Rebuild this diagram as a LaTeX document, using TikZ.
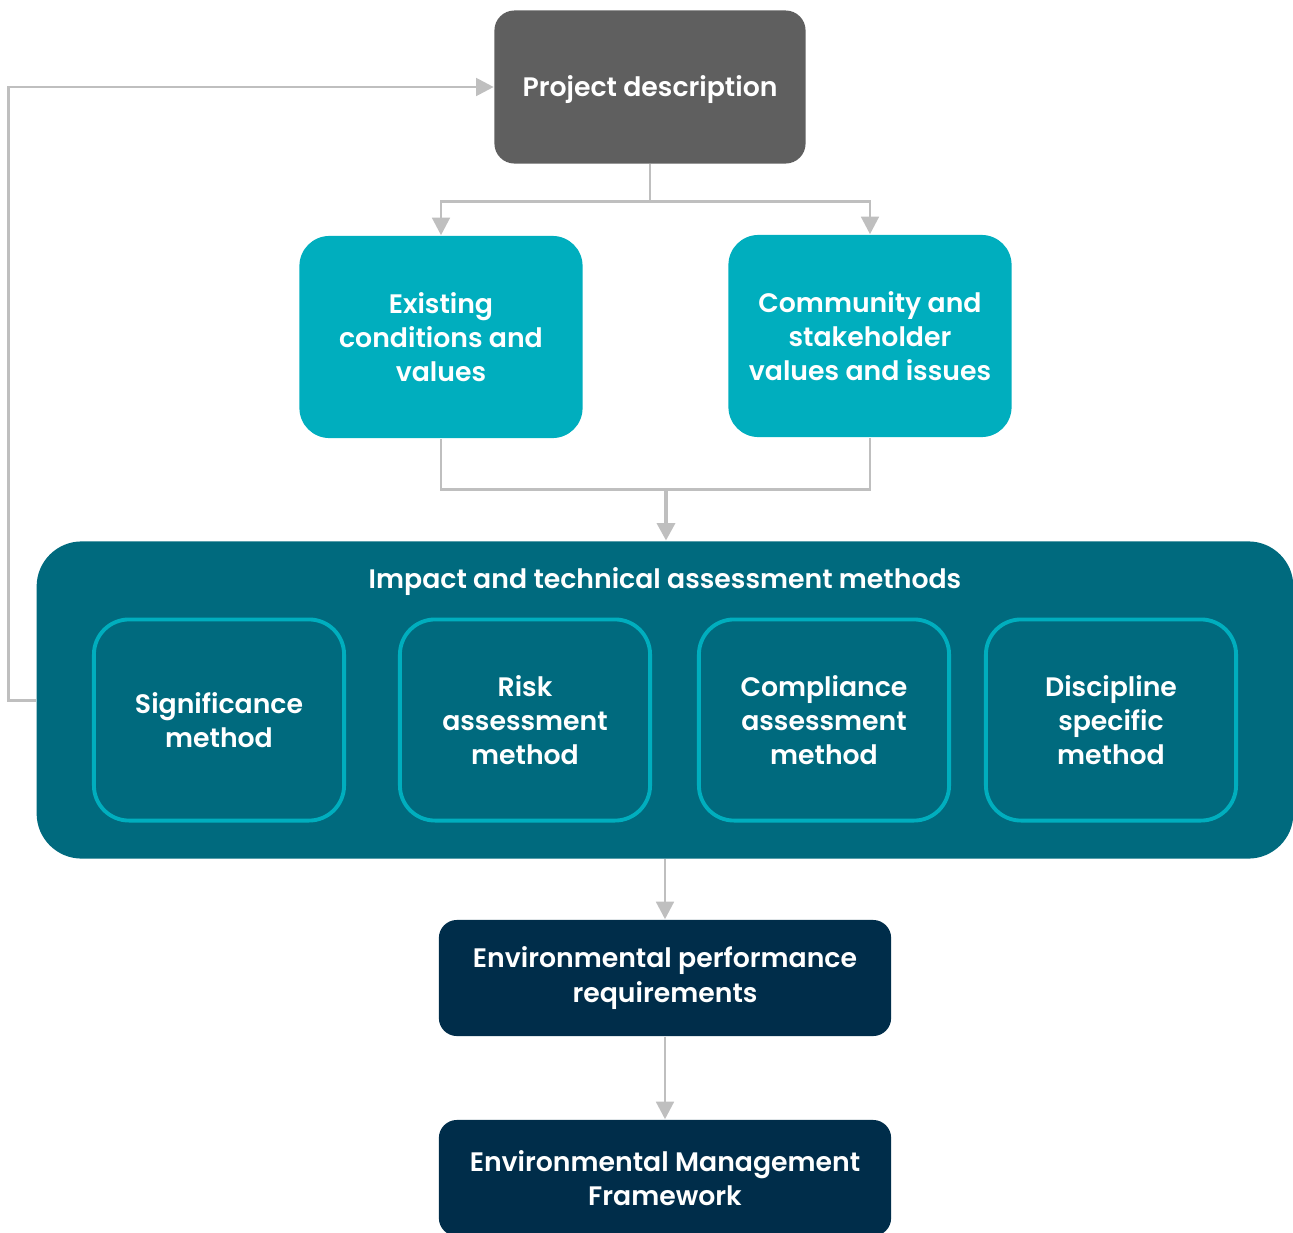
\documentclass[tikz,border=0pt]{standalone}
\usepackage{fontspec}
\setmainfont{Poppins}[BoldFont={Poppins SemiBold}]
\usetikzlibrary{arrows.meta,positioning}
\definecolor{projgrey}{HTML}{5F5F5F}
\definecolor{valteal}{HTML}{00AEBE}
\definecolor{methteal}{HTML}{006A7E}
\definecolor{envnavy}{HTML}{002D4A}
\definecolor{linegrey}{HTML}{BFBFBF}

\begin{document}
\begin{tikzpicture}
[x=0.01cm, y=-0.01cm,
baseshape/.style={rectangle, align=center, text=white, inner sep=0pt, font=\bfseries\fontsize{7.6}{9.7}\selectfont},
project/.style={baseshape, fill=projgrey, rounded corners=0.2cm, minimum width=3.11cm, minimum height=1.53cm},
values/.style={baseshape, fill=valteal, rounded corners=0.3cm, minimum width=2.83cm, minimum height=2.02cm},
methods/.style={baseshape, fill=methteal, rounded corners=0.45cm, minimum width=12.56cm, minimum height=3.17cm},
method/.style={baseshape, fill=methteal, draw=valteal, line width=1.1pt, rounded corners=0.35cm, minimum width=2.5cm, minimum height=2.01cm},
outcome/.style={baseshape, fill=envnavy, rounded corners=0.18cm, minimum width=4.52cm, minimum height=1.16cm},
link/.style={draw=linegrey, line width=0.85pt},
arrow/.style={link, -{Triangle[width=5pt,length=5pt]}},]
    \useasboundingbox (0,0) rectangle (1293,1233);
    \node (project) [project] at (650,87) {};
    \node (projecttext) [baseshape] at (650,90) {Project description};
    \node (existing) [values] at (441,337) {Existing\\conditions and\\values};
    \node (community) [values] at (870,336) {Community and\\stakeholder\\values and issues};
    \node (methods) [methods] at (665,700) {};
    \node (methodstitle) [baseshape] at (665,582) {Impact and technical assessment methods};
    \node (significance) [method] at (219,720) {Significance\\method};
    \node (risk) [method] at (525,720) {Risk\\assessment\\method};
    \node (compliance) [method] at (824,720) {Compliance\\assessment\\method};
    \node (discipline) [method] at (1111,720) {Discipline\\specific\\method};
    \node (perf) [outcome] at (665,978) {Environmental performance\\requirements};
    \node (emf) [outcome] at (665,1178) {Environmental Management\\Framework};
    % project to the two value boxes
    \draw[link] (project.south) -- ++(0,37) coordinate (split);
    \draw[arrow] (split) -| (existing.north);
    \draw[arrow] (split) -| (community.north);
    % value boxes into the methods
    \coordinate (merge) at (666,489);
    \draw[link] (existing.south) |- (merge);
    \draw[link] (community.south) |- (merge);
    \draw[arrow, line width=1.3pt] (merge) -- (merge |- methods.north);
    % feedback loop
    \draw[arrow] (methods.west) -- ++(-27,0) |- (project.west);
    % outcomes
    \draw[arrow] (methods.south) -- (perf.north);
    \draw[arrow] (perf.south) -- (emf.north);
\end{tikzpicture}
\end{document}
